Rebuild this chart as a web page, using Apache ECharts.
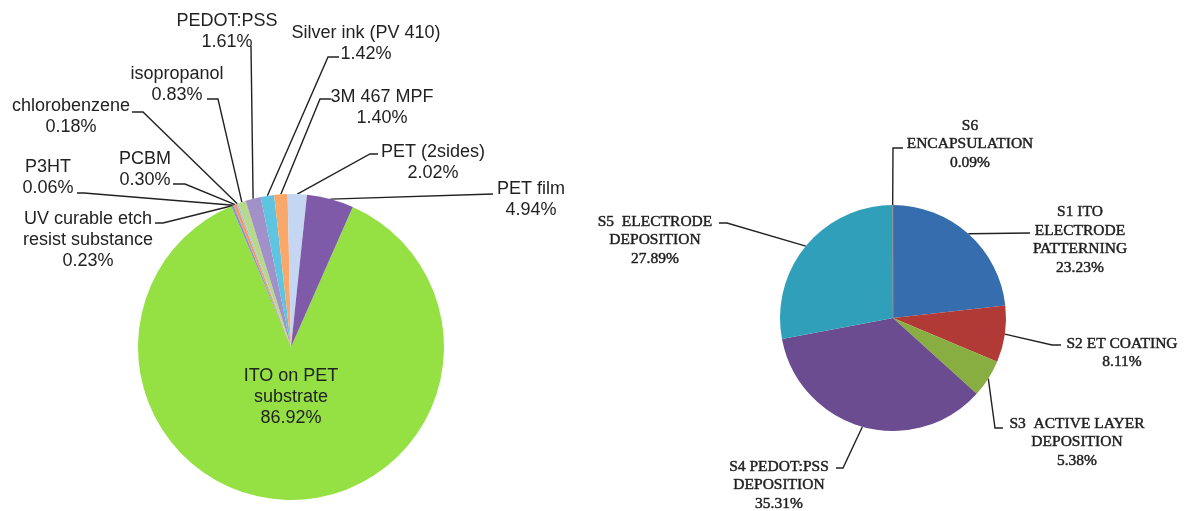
<!DOCTYPE html>
<html>
<head>
<meta charset="utf-8">
<script src="https://cdn.jsdelivr.net/npm/echarts@6/dist/echarts.min.js"></script>
<style>
    html, body { margin: 0; padding: 0; background: #fff; }
    #chart { width: 1186px; height: 511px; }
</style>
</head>
<body>
<div id="chart"></div>
<script>
// materials share (clockwise, starting with ITO)
const materialNames = [
    'ITO on PET\nsubstrate',
    'UV curable etch\nresist substance',
    'P3HT',
    'PCBM',
    'chlorobenzene',
    'isopropanol',
    'PEDOT:PSS',
    'Silver ink (PV 410)',
    '3M 467 MPF',
    'PET (2sides)',
    'PET film'
];
const materialShares = [86.92, 0.23, 0.06, 0.30, 0.18, 0.83, 1.61, 1.42, 1.40, 2.02, 4.94];
const materialColors = ['#95e144', '#7f9ad0', '#d9705c', '#ee9a62', '#a9bde0', '#b6d98c',
    '#a290c8', '#5fc4df', '#f9a869', '#c4d6f2', '#7f5aa9'];

// process steps share
const stepNames = [
    'S1 ITO\nELECTRODE\nPATTERNING',
    'S2 ET COATING',
    'S3  ACTIVE LAYER\nDEPOSITION',
    'S4 PEDOT:PSS\nDEPOSITION',
    'S5  ELECTRODE\nDEPOSITION',
    'S6\nENCAPSULATION'
];
const stepShares = [23.23, 8.11, 5.38, 35.31, 27.89, 0.09];
const stepColors = ['#366dae', '#b13a36', '#88ae42', '#6c4c90', '#2f9fba', '#8c8c8c'];

// label placement (label centre, then elbow + end of the leader line)
const materialLabelPos = [
    [291, 397], [88, 240], [48, 178], [145, 170], [71, 117], [177, 85],
    [227, 32], [366, 44], [382, 108], [433, 163], [531, 200]
];
const materialLeader = [
    null,
    [[163, 223], [155, 223]],
    [[84, 193], [77, 193]],
    [[185, 184], [173, 184]],
    [[143, 112], [132, 112]],
    [[218, 99], [207, 99]],
    [[251, 46], [251, 46]],
    [[328, 57], [339, 57]],
    [[320, 99], [331, 99]],
    [[370, 154], [378, 154]],
    [[493, 194], [493, 194]]
];
const stepLabelPos = [[1080, 240], [1122, 353], [1077, 442], [779, 485], [655, 240], [970, 144]];
const stepLeader = [
    [[1030, 233], [1030, 233]],
    [[1052, 345], [1061, 345]],
    [[995, 428], [1003, 428]],
    [[843, 468], [836, 468]],
    [[727, 223], [719, 223]],
    [[893, 148], [903, 148]]
];

function layoutFor(posList, leaderList) {
    return function(p) {
        const pos = posList[p.dataIndex];
        const lead = leaderList[p.dataIndex];
        const out = {
            x: pos[0],
            y: pos[1],
            align: 'center',
            verticalAlign: 'middle'
        };
        if (lead && p.labelLinePoints) {
            out.labelLinePoints = [p.labelLinePoints[0], lead[0], lead[1]];
        }
        return out;
    };
}

const chart = echarts.init(document.getElementById('chart'));

const options = {
    backgroundColor: '#fff',
    animation: false,
    series: [
        {
            type: 'pie',
            center: [291, 347],
            radius: 153,
            startAngle: 66.2,
            clockwise: true,
            avoidLabelOverlap: false,
            minShowLabelAngle: 0,
            label: {
                show: true,
                position: 'outside',
                fontFamily: '"Liberation Sans", Arial, sans-serif',
                fontSize: 18,
                lineHeight: 21,
                color: '#222',
                align: 'center',
                formatter: function(p) {
                    return p.name + '\n' + p.value.toFixed(2) + '%';
                }
            },
            labelLine: {
                show: true,
                length: 10,
                length2: 10,
                lineStyle: { color: '#222', width: 1.4 }
            },
            labelLayout: layoutFor(materialLabelPos, materialLeader),
            itemStyle: { borderWidth: 0 },
            data: materialNames.map(function(name, i) {
                const item = {
                    name: name,
                    value: materialShares[i],
                    itemStyle: { color: materialColors[i] }
                };
                if (i === 0) {
                    item.labelLine = { show: false };
                }
                return item;
            })
        },
        {
            type: 'pie',
            center: [893, 318],
            radius: 113,
            startAngle: 90,
            clockwise: true,
            avoidLabelOverlap: false,
            minShowLabelAngle: 0,
            label: {
                show: true,
                position: 'outside',
                fontFamily: '"Liberation Serif", "DejaVu Serif", serif',
                fontSize: 15.5,
                lineHeight: 18.5,
                color: '#1e1e1e',
                textBorderColor: '#3a3a3a',
                textBorderWidth: 0.5,
                align: 'center',
                formatter: function(p) {
                    return p.name + '\n' + p.value.toFixed(2) + '%';
                }
            },
            labelLine: {
                show: true,
                length: 10,
                length2: 10,
                lineStyle: { color: '#222', width: 1.4 }
            },
            labelLayout: layoutFor(stepLabelPos, stepLeader),
            itemStyle: { borderWidth: 0 },
            data: stepNames.map(function(name, i) {
                const item = {
                    name: name,
                    value: stepShares[i],
                    itemStyle: { color: stepColors[i] }
                };
                if (i === 5) {
                    item.itemStyle.borderColor = '#8c8c8c';
                    item.itemStyle.borderWidth = 0.6;
                }
                return item;
            })
        }
    ]
};

chart.setOption(options, true);
</script>
</body>
</html>
